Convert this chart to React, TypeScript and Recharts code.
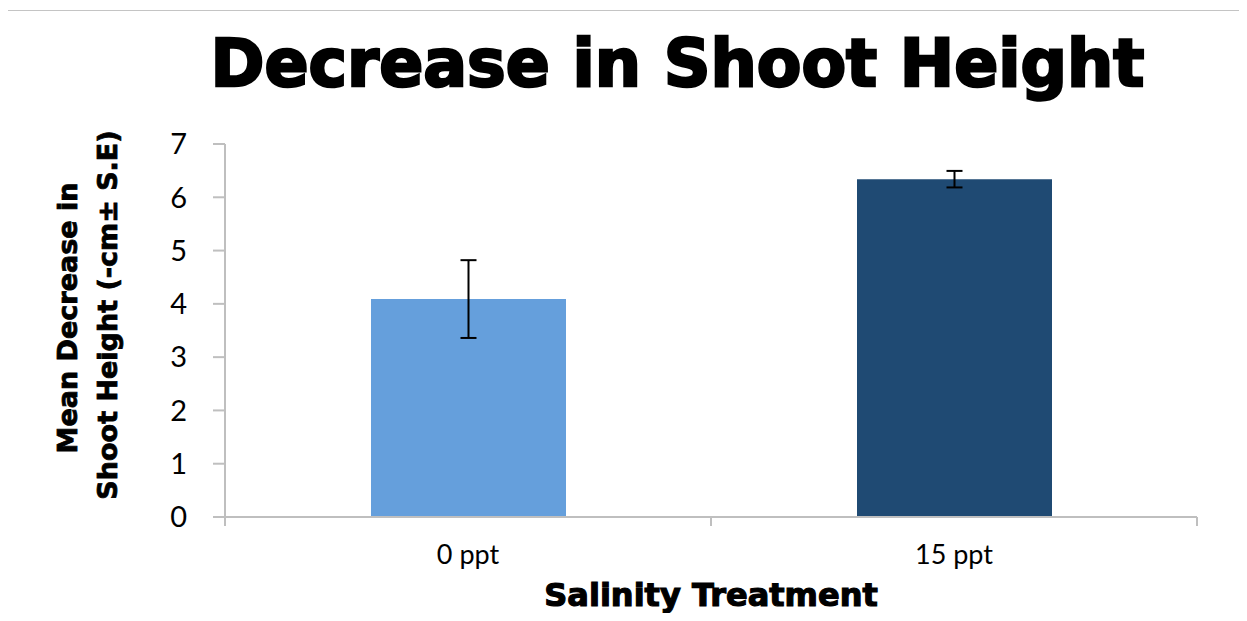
import React from 'react'
import { BarChart, Bar, XAxis, YAxis, ErrorBar, Cell } from 'recharts'

const categories = ['0 ppt', '15 ppt']
const meanDecrease = [4.09, 6.34]
const stdError = [0.73, 0.155]
const barColors = ['#659fdc', '#1f4a73']
const yTicks = [0, 1, 2, 3, 4, 5, 6, 7]

const data = categories.map((name, i) => ({
  name,
  pos: i + 0.5,
  value: meanDecrease[i],
  err: stdError[i],
}))

const axisGray = '#bfbfbf'
const tickFont = 'Lato, "Open Sans", sans-serif'
const boldFont = '"DejaVu Sans", Verdana, sans-serif'

function XTick(props: any) {
  const { x, y, payload } = props
  const v = payload.value as number
  if (Number.isInteger(v)) {
    return <line x1={x} x2={x} y1={y} y2={y + 9} stroke={axisGray} strokeWidth={2} />
  }
  const label = categories[Math.floor(v)]
  return (
    <text x={x} y={y + 47} textAnchor="middle" fontSize={27} fontFamily={tickFont} fill="#000">
      {label}
    </text>
  )
}

function YLabel() {
  return (
    <g fontFamily={boldFont} fontWeight="bold" fontSize={27} fill="#000" stroke="#000" strokeWidth={0.8}>
      <text x={0} y={0} transform="translate(77,318) rotate(-90)" textAnchor="middle">
        Mean Decrease in
      </text>
      <text x={0} y={0} transform="translate(117,315) rotate(-90)" textAnchor="middle">
        Shoot Height (-cm± S.E)
      </text>
    </g>
  )
}

export default function App() {
  return (
    <div style={{ position: 'relative', width: 1247, height: 621, margin: -8, overflow: 'hidden', background: '#fff' }}>
      <div
        style={{
          position: 'absolute',
          left: 7,
          top: 10,
          width: 1237,
          height: 640,
          border: '1px solid #c4c4c4',
        }}
      />
      <div
        style={{
          position: 'absolute',
          left: 0,
          top: 28,
          width: 1355,
          textAlign: 'center',
          fontFamily: boldFont,
          fontWeight: 'bold',
          fontSize: 65,
          lineHeight: '72px',
          color: '#000',
          WebkitTextStroke: '2.5px #000',
        }}
      >
        Decrease in Shoot Height
      </div>
      <div style={{ position: 'absolute', left: 0, top: 0 }}>
        <BarChart width={1247} height={621} data={data} margin={{ top: 144, right: 50, bottom: 0, left: 0 }}>
          <XAxis
            type="number"
            dataKey="pos"
            domain={[0, 2]}
            ticks={[0, 0.5, 1, 1.5, 2]}
            interval={0}
            height={104}
            tickLine={false}
            tickSize={0}
            tickMargin={0}
            axisLine={{ stroke: axisGray, strokeWidth: 2 }}
            tick={<XTick />}
            label={{
              value: 'Salinity Treatment',
              position: 'insideBottom',
              offset: 15,
              fontFamily: boldFont,
              fontWeight: 'bold',
              fontSize: 32,
              fill: '#000',
              stroke: '#000',
              strokeWidth: 1.2,
            }}
          />
          <YAxis
            domain={[0, 7]}
            ticks={yTicks}
            interval={0}
            width={225}
            tickSize={12}
            tickMargin={26}
            tickLine={{ stroke: axisGray, strokeWidth: 2 }}
            axisLine={{ stroke: axisGray, strokeWidth: 2 }}
            tick={{ fontSize: 29, fontFamily: tickFont, fill: '#000' }}
            label={<YLabel />}
          />
          <Bar dataKey="value" barSize={195} isAnimationActive={false}>
            {data.map((d, i) => (
              <Cell key={d.name} fill={barColors[i]} />
            ))}
            <ErrorBar dataKey="err" width={8} stroke="#000" strokeWidth={2} direction="y" />
          </Bar>
        </BarChart>
      </div>
    </div>
  )
}
